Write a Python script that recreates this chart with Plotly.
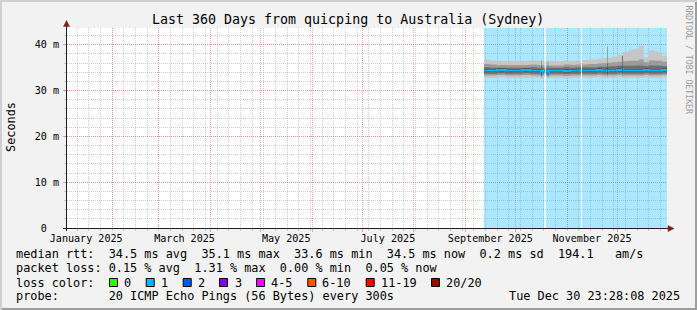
import plotly.graph_objects as go
import pandas as pd

# ---------------- data ----------------
START = "2025-01-04 23:28:08"
END = "2025-12-30 23:28:08"
Y_MAX = 43.67

title_text = "Last 360 Days from quicping to Australia (Sydney)"
y_tick_vals = [0, 10, 20, 30, 40]
y_tick_text = ["0\u00a0\u00a0", "10 m", "20 m", "30 m", "40 m"]
x_label_months = ["2025-01-01", "2025-03-01", "2025-05-01", "2025-07-01", "2025-09-01", "2025-11-01"]
x_label_text = ["January 2025", "March 2025", "May 2025", "July 2025", "September 2025", "November 2025"]

# step start times (None = gap in data)
times = [
    "2025-09-12 04:00", "2025-09-16", "2025-09-20", "2025-09-25", "2025-09-30", "2025-10-05",
    "2025-10-10", "2025-10-14", "2025-10-16 10:00", "2025-10-17 00:00", "2025-10-17 14:00", "2025-10-18 10:00", None,
    "2025-10-19 08:00", "2025-10-20 07:00", "2025-10-20 22:00", "2025-10-25", "2025-10-30", "2025-11-03",
    "2025-11-06", "2025-11-08 20:00", "2025-11-09 08:00", None,
    "2025-11-10 00:00", "2025-11-14", "2025-11-19", "2025-11-22", "2025-11-25 00:00", "2025-11-25 14:00",
    "2025-11-28", "2025-12-01", "2025-12-04 00:00", "2025-12-04 14:00", "2025-12-08", "2025-12-11",
    "2025-12-14", "2025-12-17", "2025-12-20", "2025-12-24", "2025-12-28", "2025-12-30 23:28",
]
median = [
    34.4, 34.4, 34.5, 34.4, 34.4, 34.5, 34.4, 34.4, 33.8, 34.4, 34.4, 34.4, None,
    34.4, 33.8, 34.4, 34.4, 34.3, 34.4, 34.4, 34.4, 34.4, None,
    34.4, 34.4, 34.5, 34.4, 34.2, 34.4, 34.4, 34.5, 34.6, 34.4, 34.4, 34.4, 34.4, 34.5, 34.4, 34.4, 34.5, 34.5,
]
loss = [
    1, 1, 1, 1, 1, 1, 1, 1, 2, 1, 0, 1, None,
    1, 2, 1, 1, 1, 1, 1, 0, 1, None,
    1, 1, 1, 1, 2, 1, 1, 1, 2, 1, 1, 1, 1, 1, 1, 1, 1, 1,
]
outer_hi = [
    36.8, 36.6, 36.5, 36.5, 36.4, 36.5, 36.6, 36.5, 36.9, 36.5, 36.5, 36.5, None,
    36.5, 36.7, 36.4, 36.4, 36.6, 36.5, 36.6, 36.6, 36.6, None,
    36.7, 36.8, 37.0, 37.1, 39.8, 37.2, 37.4, 37.8, 38.2, 38.5, 38.9, 39.1, 39.8, 37.3, 38.8, 38.5, 37.6, 37.6,
]
mid_hi = [
    35.8, 35.7, 35.6, 35.6, 35.6, 35.6, 35.7, 35.6, 36.5, 35.6, 35.6, 35.6, None,
    35.6, 36.3, 35.5, 35.5, 35.7, 35.6, 35.7, 35.7, 35.7, None,
    35.7, 35.8, 35.9, 36.0, 39.6, 36.1, 36.2, 36.3, 36.4, 36.4, 36.5, 36.5, 36.8, 36.2, 36.6, 36.5, 36.3, 36.3,
]
inner_hi = [
    35.1, 35.0, 35.0, 35.0, 35.0, 35.0, 35.1, 35.0, 35.4, 35.0, 35.0, 35.0, None,
    35.0, 35.3, 35.0, 35.0, 35.1, 35.0, 35.1, 35.1, 35.1, None,
    35.1, 35.1, 35.2, 35.2, 36.0, 35.3, 35.3, 35.4, 37.6, 35.4, 35.4, 35.5, 35.5, 35.3, 35.5, 35.4, 35.3, 35.3,
]
core_hi = [
    34.7, 34.7, 34.8, 34.7, 34.7, 34.8, 34.7, 34.7, 34.3, 34.7, 34.7, 34.7, None,
    34.7, 34.3, 34.7, 34.7, 34.6, 34.7, 34.7, 34.7, 34.7, None,
    34.7, 34.7, 34.8, 34.7, 35.0, 34.7, 34.7, 34.8, 35.2, 34.7, 34.7, 34.7, 34.7, 34.8, 34.7, 34.7, 34.8, 34.8,
]
core_lo = [
    34.1, 34.1, 34.2, 34.1, 34.1, 34.2, 34.1, 34.1, 33.5, 34.1, 34.1, 34.1, None,
    34.1, 33.5, 34.1, 34.1, 34.0, 34.1, 34.1, 34.1, 34.1, None,
    34.1, 34.1, 34.2, 34.1, 33.8, 34.1, 34.1, 34.2, 34.0, 34.1, 34.1, 34.1, 34.1, 34.2, 34.1, 34.1, 34.2, 34.2,
]
inner_lo = [
    33.7, 33.7, 33.8, 33.7, 33.7, 33.8, 33.7, 33.7, 33.2, 33.7, 33.7, 33.7, None,
    33.7, 33.2, 33.7, 33.7, 33.6, 33.7, 33.7, 33.7, 33.7, None,
    33.7, 33.7, 33.8, 33.7, 33.5, 33.7, 33.7, 33.8, 33.6, 33.7, 33.7, 33.7, 33.7, 33.8, 33.7, 33.7, 33.8, 33.8,
]
mid_lo = [
    33.3, 33.3, 33.4, 33.3, 33.3, 33.4, 33.3, 33.3, 32.9, 33.3, 33.3, 33.3, None,
    33.3, 32.9, 33.3, 33.3, 33.2, 33.3, 33.3, 33.3, 33.3, None,
    33.3, 33.3, 33.4, 33.3, 33.1, 33.3, 33.3, 33.4, 33.2, 33.3, 33.3, 33.3, 33.3, 33.4, 33.3, 33.3, 33.4, 33.4,
]
outer_lo = [
    32.8, 32.8, 32.9, 32.8, 32.8, 32.8, 32.8, 32.8, 32.6, 32.8, 32.8, 32.8, None,
    32.8, 32.6, 32.8, 32.8, 32.7, 32.8, 32.8, 32.8, 32.8, None,
    32.8, 32.8, 32.9, 32.8, 32.6, 32.8, 32.8, 32.9, 32.7, 32.8, 32.8, 32.8, 32.8, 32.9, 32.8, 32.8, 32.9, 32.9,
]

rtt_stats = [34.5, 35.1, 33.6, 34.5]      # avg, max, min, now (ms)
rtt_sd = 0.2
rtt_ams = 194.1
loss_stats = [0.15, 1.31, 0.00, 0.05]     # avg, max, min, now (%)
loss_labels = ["0", "1", "2", "3", "4-5", "6-10", "11-19", "20/20"]
loss_colors = ["#26ff00", "#00b8ff", "#0059ff", "#7e00ff", "#ff00ff", "#ff5500", "#ff0000", "#a10000"]
probe_text = "20 ICMP Echo Pings (56 Bytes) every 300s"
stamp_text = "Tue Dec 30 23:28:08 2025"

# ---------------- layout constants ----------------
W, H = 697, 310
PL, PR, PT, PB = 67, 667, 28, 228
FONT = "DejaVu Sans Mono"
GRID = "rgba(150,150,150,0.45)"
MGRID = "rgba(222,79,79,0.45)"
BG = "#f2f2f2"
ARROW = "#801f1f"
AXIS = "#1f1f1f"
NB = "\u00a0"


def px(x):
    return (x - PL) / (PR - PL)


def py(y):
    return (PB - y) / (PB - PT)


def segments(*cols):
    segs, cur = [], [[] for _ in cols]
    for i, t in enumerate(times):
        if t is None:
            segs.append(cur)
            cur = [[] for _ in cols]
        else:
            for k, c in enumerate(cols):
                cur[k].append(c[i])
    segs.append(cur)
    return segs


fig = go.Figure()

# loss background
for seg in segments(times):
    t = seg[0]
    fig.add_trace(go.Scatter(x=[t[0], t[-1]], y=[Y_MAX, Y_MAX], mode="lines", line=dict(width=0, shape="hv"),
                             fill="tozeroy", fillcolor="rgba(0,184,255,0.33)", hoverinfo="skip", showlegend=False))

# smoke bands (outer -> inner)
bands = [(outer_lo, outer_hi, "#c6c6c6"), (mid_lo, mid_hi, "#9c9c9c"),
         (inner_lo, inner_hi, "#6e6e6e"), (core_lo, core_hi, "#404040")]
for lo, hi, col in bands:
    for seg in segments(times, lo, hi):
        t, l, h = seg
        fig.add_trace(go.Scatter(x=t, y=l, mode="lines", line=dict(width=0, shape="hv"),
                                 hoverinfo="skip", showlegend=False))
        fig.add_trace(go.Scatter(x=t, y=h, mode="lines", line=dict(width=0, shape="hv"), fill="tonexty",
                                 fillcolor=col, hoverinfo="skip", showlegend=False))

# median line, coloured by loss
for seg in segments(times, median):
    t, m = seg
    fig.add_trace(go.Scatter(x=t, y=m, mode="lines", line=dict(width=2, color=loss_colors[1], shape="hv"),
                             hoverinfo="skip", showlegend=False))
for cat in (0, 2):
    xs, ys = [], []
    for i in range(len(times) - 1):
        if times[i] is not None and times[i + 1] is not None and loss[i] == cat:
            xs += [times[i], times[i + 1], None]
            ys += [median[i], median[i], None]
    fig.add_trace(go.Scatter(x=xs, y=ys, mode="lines", line=dict(width=2, color=loss_colors[cat]),
                             hoverinfo="skip", showlegend=False))

# invisible anchor trace for the label axis
fig.add_trace(go.Scatter(x=[t for t in times if t], y=[v for v in median if v is not None], xaxis="x2",
                         mode="lines", line=dict(width=0), opacity=0, hoverinfo="skip", showlegend=False))

month_starts = pd.date_range("2025-02-01", "2025-12-01", freq="MS")
weeks = pd.date_range("2025-01-11", "2025-12-27", freq="7D")
lab = pd.to_datetime(x_label_months)
mids = [a + (a + pd.offsets.MonthBegin(1) - a) / 2 for a in lab]

fig.update_layout(
    width=W, height=H,
    margin=dict(l=PL, r=W - PR, t=PT, b=H - PB, pad=0),
    paper_bgcolor=BG, plot_bgcolor="#ffffff",
    font=dict(family=FONT, color="#000000"),
    showlegend=False,
    xaxis=dict(type="date", range=[START, END], tickmode="array", tickvals=month_starts,
               ticktext=[""] * len(month_starts), showticklabels=False,
               ticks="outside", ticklen=3, tickcolor=MGRID, tickwidth=1,
               showgrid=True, gridcolor=MGRID, griddash="1px,1px", gridwidth=1,
               showline=False, zeroline=False, fixedrange=True,
               minor=dict(tickmode="array", tickvals=weeks, showgrid=True, gridcolor=GRID,
                          griddash="1px,1px", gridwidth=1, ticks="outside", ticklen=2, tickcolor=GRID)),
    xaxis2=dict(type="date", range=[START, END], overlaying="x", anchor="y", side="bottom",
                tickmode="array", tickvals=mids, ticktext=x_label_text, ticks="", showgrid=False,
                showline=False, zeroline=False, tickfont=dict(size=10.1, family=FONT), fixedrange=True,
                ticklabelstandoff=3),
    yaxis=dict(range=[0, Y_MAX], tickmode="array", tickvals=y_tick_vals, ticktext=y_tick_text,
               ticks="outside", ticklen=3, tickcolor=MGRID, showgrid=True, gridcolor=MGRID,
               griddash="1px,1px", gridwidth=1, showline=False, zeroline=False,
               tickfont=dict(size=10.1, family=FONT), fixedrange=True, ticklabelstandoff=2,
               minor=dict(dtick=2, tick0=0, showgrid=True, gridcolor=GRID, griddash="1px,1px",
                          gridwidth=1, ticks="outside", ticklen=2, tickcolor=GRID)),
)

shapes = []
# frame shading
shapes.append(dict(type="rect", xref="paper", yref="paper", x0=px(0), x1=px(W), y0=py(0), y1=py(2),
                   fillcolor="#cfcfcf", line=dict(width=0), layer="below"))
shapes.append(dict(type="rect", xref="paper", yref="paper", x0=px(0), x1=px(2), y0=py(0), y1=py(H),
                   fillcolor="#cfcfcf", line=dict(width=0), layer="below"))
shapes.append(dict(type="rect", xref="paper", yref="paper", x0=px(2), x1=px(W), y0=py(H - 2), y1=py(H),
                   fillcolor="#9e9e9e", line=dict(width=0), layer="below"))
shapes.append(dict(type="rect", xref="paper", yref="paper", x0=px(W - 2), x1=px(W), y0=py(2), y1=py(H),
                   fillcolor="#9e9e9e", line=dict(width=0), layer="below"))
# axes
shapes.append(dict(type="line", xref="paper", yref="paper", x0=px(63), x1=px(669), y0=py(228.5), y1=py(228.5),
                   line=dict(color=AXIS, width=1)))
shapes.append(dict(type="line", xref="paper", yref="paper", x0=px(66.5), x1=px(66.5), y0=py(231), y1=py(25),
                   line=dict(color=AXIS, width=1)))
shapes.append(dict(type="path", xref="paper", yref="paper",
                   path=f"M {px(66.5)} {py(20.5)} L {px(63.5)} {py(26.5)} L {px(69.5)} {py(26.5)} Z",
                   fillcolor=ARROW, line=dict(color=ARROW, width=0.5)))
shapes.append(dict(type="path", xref="paper", yref="paper",
                   path=f"M {px(674)} {py(228.5)} L {px(668)} {py(225.5)} L {px(668)} {py(231.5)} Z",
                   fillcolor=ARROW, line=dict(color=ARROW, width=0.5)))
# loss colour legend boxes
box_x = [109, 145.7, 182.7, 219, 256, 307.3, 365.7, 431]
for bx, col in zip(box_x, loss_colors):
    shapes.append(dict(type="rect", xref="paper", yref="paper", x0=px(bx + 0.5), x1=px(bx + 8.5),
                       y0=py(278.5), y1=py(286.5), fillcolor=col, line=dict(color="#000000", width=1)))
fig.update_layout(shapes=shapes)

LEG = 11.85
ann = []


def text(x, y, s, size=LEG, anchor="left", angle=0, color="#000000"):
    ann.append(dict(x=px(x), y=py(y), xref="paper", yref="paper", text=s.replace(" ", NB), showarrow=False,
                    xanchor=anchor, yanchor="middle", textangle=angle, borderpad=0,
                    font=dict(family=FONT, size=size, color=color)))


text(347.5, 19, title_text, size=13.3, anchor="center")
text(11, 127, "Seconds", size=LEG, anchor="center", angle=-90)
text(688.5, 60, "RRDTOOL / TOBI OETIKER", size=8.2, anchor="center", angle=90, color="#9a9a9a")

row1 = ("median rtt:  " + "  ".join(f"{v:.1f} ms {n}" for v, n in zip(rtt_stats, ["avg", "max", "min", "now"]))
        + f"  {rtt_sd:.1f} ms sd  {rtt_ams:.1f}   am/s")
row2 = "packet loss: " + "  ".join(f"{v:.2f} % {n}" for v, n in zip(loss_stats, ["avg", "max", "min", "now"]))
text(15, 254.2, row1)
text(15, 268.2, row2)
text(15, 282.5, "loss color:")
label_x = [123, 160, 197, 234, 270.7, 321.7, 380.7, 445.7]
for lx, lb in zip(label_x, loss_labels):
    text(lx - 0.5, 282.5, lb)
text(15, 295.8, "probe:       " + probe_text)
text(681, 295.8, stamp_text, anchor="right")

fig.update_layout(annotations=ann)
fig.write_html("out.html")
